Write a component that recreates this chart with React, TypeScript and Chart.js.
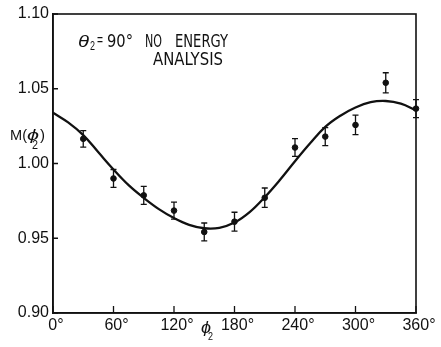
import React, { useEffect, useRef } from "react";
import { Chart, registerables } from "chart.js";

Chart.register(...registerables);

// Measured data points (phi2 in degrees)
const pointAngles = [30, 60, 90, 120, 150, 180, 210, 240, 270, 300, 330, 360];
const pointValues = [1.0165, 0.990, 0.9787, 0.9685, 0.9542, 0.9611, 0.9771, 1.0107, 1.018, 1.0258, 1.054, 1.0367];
const pointErrors = [0.0055, 0.006, 0.006, 0.0057, 0.006, 0.0063, 0.0065, 0.006, 0.006, 0.0065, 0.0067, 0.006];

// Fitted curve
const curveAngles = [0, 15, 30, 45, 60, 75, 90, 105, 120, 135, 150, 165, 180, 195, 210, 225, 240, 255, 270, 285, 300, 315, 330, 345, 360];
const curveValues = [1.034, 1.0275, 1.019, 1.0075, 0.996, 0.9855, 0.977, 0.9695, 0.9635, 0.959, 0.9567, 0.957, 0.9605, 0.9675, 0.9775, 0.989, 1.0015, 1.0135, 1.0245, 1.032, 1.0375, 1.041, 1.0418, 1.040, 1.0355];

// Axis ticks
const xTicks = [0, 60, 120, 180, 240, 300, 360];
const yTicks = [0.9, 0.95, 1.0, 1.05, 1.1];

const INK = "#111111";
const FAMILY = '"Liberation Sans", Arial, "DejaVu Sans", sans-serif';
const NARROW = '"Liberation Sans Narrow", "DejaVu Sans Condensed", "Liberation Sans", Arial, sans-serif';

function fitText(ctx: CanvasRenderingContext2D, text: string, x: number, baseline: number, width: number, font: string) {
  ctx.save();
  ctx.font = font;
  const w = ctx.measureText(text).width || 1;
  ctx.translate(x, baseline);
  ctx.scale(width / w, 1);
  ctx.textAlign = "left";
  ctx.textBaseline = "alphabetic";
  ctx.fillText(text, 0, 0);
  ctx.restore();
}

const decorPlugin = {
  id: "decor",
  afterDatasetsDraw(chart: any) {
    const ctx: CanvasRenderingContext2D = chart.ctx;
    const { left, right, top, bottom } = chart.chartArea;
    const xs = chart.scales.x;
    const ys = chart.scales.y;
    ctx.save();
    ctx.strokeStyle = INK;
    ctx.fillStyle = INK;
    // frame
    ctx.lineWidth = 1.6;
    ctx.strokeRect(left, top, right - left, bottom - top);
    // inward ticks
    ctx.lineWidth = 1.3;
    ctx.beginPath();
    yTicks.forEach((v) => {
      const y = ys.getPixelForValue(v);
      ctx.moveTo(left, y);
      ctx.lineTo(left + 5, y);
    });
    xTicks.forEach((v) => {
      const x = xs.getPixelForValue(v);
      ctx.moveTo(x, bottom);
      ctx.lineTo(x, bottom - 7);
    });
    ctx.stroke();
    // error bars
    ctx.lineWidth = 1.3;
    ctx.beginPath();
    pointAngles.forEach((a, i) => {
      const x = xs.getPixelForValue(a);
      const y1 = ys.getPixelForValue(pointValues[i] + pointErrors[i]);
      const y2 = ys.getPixelForValue(pointValues[i] - pointErrors[i]);
      ctx.moveTo(x, y1);
      ctx.lineTo(x, y2);
      ctx.moveTo(x - 3, y1);
      ctx.lineTo(x + 3, y1);
      ctx.moveTo(x - 3, y2);
      ctx.lineTo(x + 3, y2);
    });
    ctx.stroke();

    // annotation
    fitText(ctx, "θ", 78, 47, 11, `italic 17px ${FAMILY}`);
    fitText(ctx, "2", 90, 50, 5, `12px ${FAMILY}`);
    fitText(ctx, "=", 97, 45, 6, `14px ${FAMILY}`);
    fitText(ctx, "90°", 107, 47, 26, `17px ${NARROW}`);
    fitText(ctx, "NO", 145, 47, 17, `17px ${NARROW}`);
    fitText(ctx, "ENERGY", 175, 47, 53, `17px ${NARROW}`);
    fitText(ctx, "ANALYSIS", 153, 65, 70, `17px ${NARROW}`);

    // y axis title M(phi2)
    fitText(ctx, "M(", 10, 140, 17, `15px ${FAMILY}`);
    fitText(ctx, "ϕ", 27, 140, 12, `italic 15px ${FAMILY}`);
    fitText(ctx, ")", 40, 140, 5, `15px ${FAMILY}`);
    fitText(ctx, "2", 32, 149, 6, `12px ${FAMILY}`);

    // x axis title phi2
    fitText(ctx, "ϕ", 201, 333, 10, `italic 17px ${FAMILY}`);
    fitText(ctx, "2", 208, 340, 5, `11px ${FAMILY}`);
    ctx.restore();
  },
};

export default function App() {
  const ref = useRef<HTMLCanvasElement | null>(null);
  useEffect(() => {
    document.body.style.margin = "0";
    if (!ref.current) return;
    const chart = new Chart(ref.current, {
      type: "scatter",
      data: {
        datasets: [
          {
            type: "line",
            label: "fit",
            data: curveAngles.map((a, i) => ({ x: a, y: curveValues[i] })),
            borderColor: INK,
            borderWidth: 2.3,
            pointRadius: 0,
            tension: 0.4,
            fill: false,
          },
          {
            type: "scatter",
            label: "data",
            data: pointAngles.map((a, i) => ({ x: a, y: pointValues[i] })),
            backgroundColor: INK,
            borderColor: INK,
            pointRadius: 2.8,
            clip: false,
          } as any,
        ],
      },
      options: {
        responsive: false,
        animation: false,
        devicePixelRatio: 1,
        layout: { padding: { top: 14, right: 25, left: 0, bottom: 0 } },
        plugins: {
          legend: { display: false },
          tooltip: { enabled: false },
          title: { display: false },
        },
        scales: {
          x: {
            type: "linear",
            min: 0,
            max: 360,
            afterBuildTicks: (s: any) => {
              s.ticks = xTicks.map((v) => ({ value: v }));
            },
            afterFit: (s: any) => {
              s.height = 34;
            },
            ticks: {
              callback: (v: any) => `${v}°`,
              color: INK,
              font: { size: 16, family: FAMILY },
              padding: 3,
              labelOffset: 3,
              maxRotation: 0,
              autoSkip: false,
            },
            grid: { display: false, drawTicks: false },
            border: { display: true, color: INK, width: 1.6 },
          },
          y: {
            type: "linear",
            min: 0.9,
            max: 1.1,
            afterBuildTicks: (s: any) => {
              s.ticks = yTicks.map((v) => ({ value: v }));
            },
            afterFit: (s: any) => {
              s.width = 53;
            },
            ticks: {
              callback: (v: any) => Number(v).toFixed(2),
              color: INK,
              font: { size: 16, family: FAMILY },
              padding: 4,
              autoSkip: false,
            },
            grid: { display: false, drawTicks: false },
            border: { display: true, color: INK, width: 1.6 },
          },
        },
      },
      plugins: [decorPlugin],
    });
    return () => chart.destroy();
  }, []);
  return (
    <div style={{ width: 441, height: 347, background: "#fff" }}>
      <canvas ref={ref} width={441} height={347} style={{ display: "block" }} />
    </div>
  );
}
